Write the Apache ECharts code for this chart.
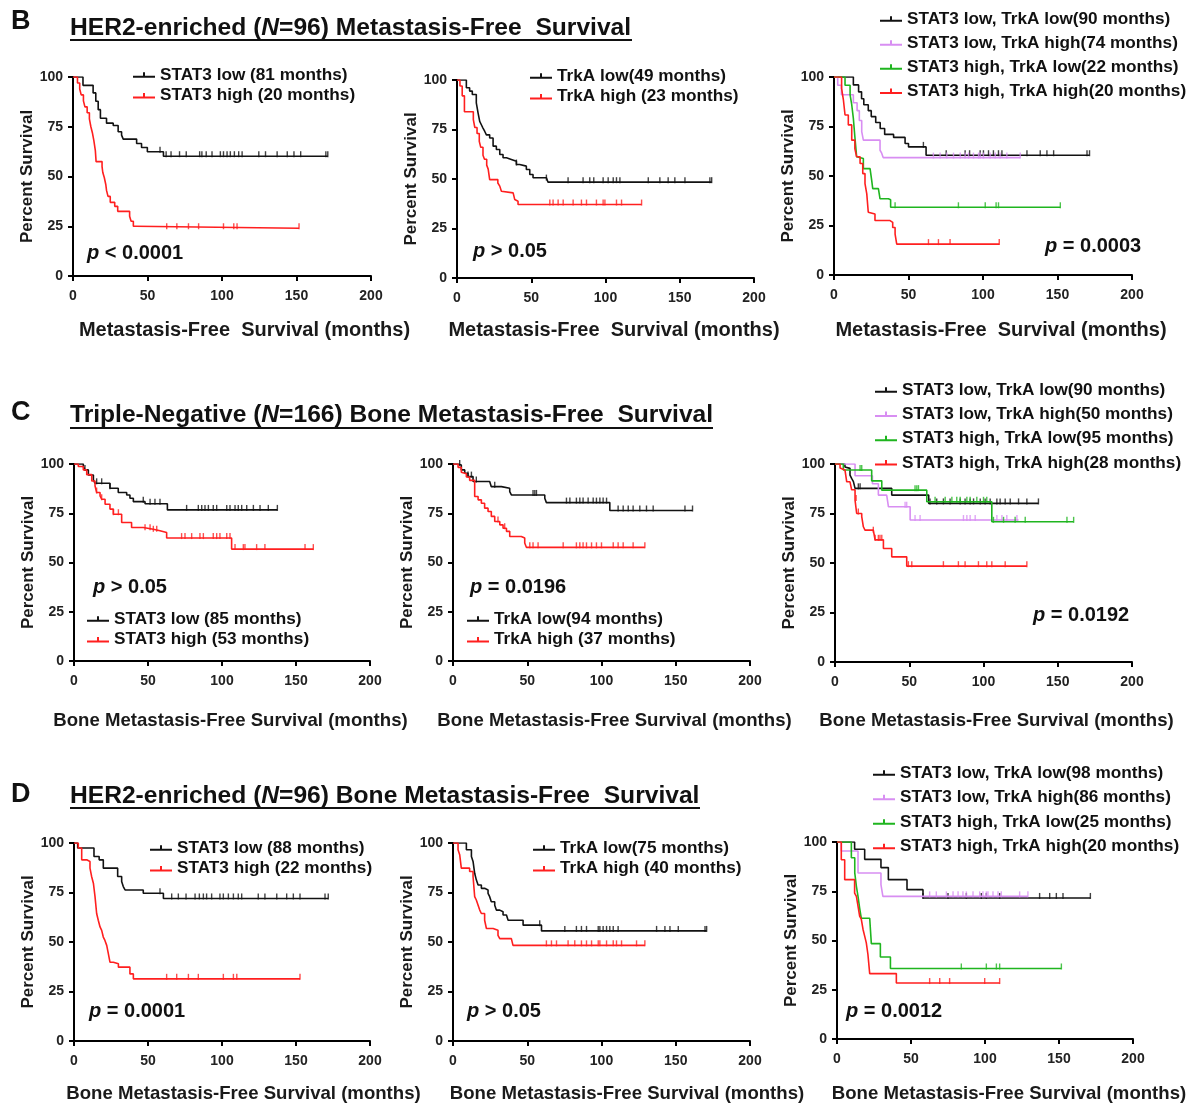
<!DOCTYPE html>
<html><head><meta charset="utf-8">
<script src="https://cdn.jsdelivr.net/npm/echarts@6/dist/echarts.min.js"></script>
<style>html,body{margin:0;padding:0;background:#fff}#c{width:1195px;height:1104px}</style>
</head><body><div id="c"></div><script>
// ---------- DATA (time in months, percent survival); last point = end of follow-up ----------
const xTicks = [0, 50, 100, 150, 200];
const yTicks = [0, 25, 50, 75, 100];

// B: HER2-enriched MFS
const b1Low = [[0,100],[6.7,95.8],[13.5,92],[15.3,87.8],[16.9,83.6],[18.4,79.3],[22.5,76.8],[27,75.6],[30.3,72.5],[32.6,70.8],[33.7,68.8],[42.7,66.6],[46,64.6],[49.9,62.4],[60.7,60.2],[171,60.2]];
const b1LowCens = [58.4,62.5,65.8,71.5,76,85,86.5,89.4,93.3,98.9,101,103.4,105.6,108.3,111.2,113.5,124.7,129.2,137,143.8,148.3,152.8,169.7,171];
const b1High = [[0,100],[3,97],[4.5,94],[5.5,91],[7,88],[8,85],[9.5,82],[11,79],[12,75],[13,72],[14,68],[15,63],[15.5,57.5],[19.5,55],[20,52],[21,49.5],[22,46],[22.5,43],[23.5,40],[25,37],[28,35],[30,32.5],[38,30],[39,27.5],[40.5,25],[42,24],[151.7,24]];
const b1HighCens = [62.9,69.7,77.5,84.3,101,107.9,110.1,151.7];

const b2Low = [[0,100],[6.3,96.1],[8.5,94.4],[10.3,92.7],[13,88.4],[14.2,83.3],[15.3,79.1],[16.4,77.4],[17.5,75.7],[18.7,74],[19.8,72.3],[22,70.7],[24.3,66.6],[26.5,64.9],[28.8,62.4],[31,60.7],[33.3,59.9],[36.6,59],[40,57.3],[42.2,56.5],[46.7,54.8],[49,52.3],[51.2,50.6],[60.2,49.7],[61.3,48.4],[171.5,48.4]];
const b2LowCens = [40,60.2,74.8,84.9,89.4,92.1,98.4,101.8,105.2,107.4,109.7,128.8,136.6,142.2,146.7,153.5,170.3,171.5];
const b2High = [[0,100],[2,97],[3.5,92],[5,84],[11,80],[12,76],[13.5,73],[15,69],[16,66],[17.5,62],[18.5,60],[20,57],[21,55],[22,49.7],[27.5,48],[28.8,46.4],[29.9,43.8],[31,43],[37.8,42.2],[38.9,39.6],[40,38.8],[41.1,37.1],[124.3,37.1]];
const b2HighCens = [62.5,64.7,68.1,71.5,78.2,83.8,87.2,93.9,98.4,99.6,107.4,110.8,124.3];

const b3LL = [[0,100],[13,96],[16.5,92.5],[18.5,89],[20,86],[23,83],[25,80],[28,77],[31,74],[34,71],[40,69.5],[47.7,66.4],[50,64.7],[61.8,60.5],[171.5,60.5]];
const b3LLCens = [60,75.3,88,91,98.1,100.3,103.7,107,110.4,112.7,129.5,138.4,142.9,147.4,169.8,171.5];
const b3LH = [[0,100],[2.5,95.8],[5,91],[13,87],[15.5,83],[17,78],[18.6,72.4],[19.7,68.1],[30.9,63],[32,61.5],[33,59.3],[125,59.3]];
const b3LHCens = [66.7,71.2,75.7,80.2,84.7,88,90.3,93.6,97,98.1,100.3,104.8,108.2,111.5,116,125];
const b3HL = [[0,100],[7.4,95.8],[10.8,91],[11.9,86],[13,79],[14,69.8],[15.2,59.7],[16.3,58.8],[19.7,53.7],[24.2,52.9],[25.3,47.8],[26,43.6],[29.8,42.7],[30.9,38.5],[36.5,38],[38,34.2],[151.9,34.2]];
const b3HLCens = [41,83.5,101.5,108.8,110.4,151.9];
const b3HH = [[0,100],[5.1,94.2],[6.3,88.5],[7.4,80.8],[9.6,75.8],[11.9,68.1],[14,63.9],[15.2,59.7],[17.5,56.3],[19.3,51.2],[20.8,46.1],[22,41],[23,31.7],[24.2,30.8],[27.5,27.5],[37.6,26.6],[39.4,24],[41,20.7],[42.1,15.6],[110.9,15.6]];
const b3HHCens = [63.4,70.1,77.9,110.9];

// C: Triple-negative BMFS
const c1Low = [[0,100],[6.3,98.7],[7.4,97],[9.7,94.4],[13.1,92],[14.2,90.2],[24.3,87.7],[29.9,85.5],[35.6,84.3],[37.8,82.6],[40.1,80.9],[48,79.8],[63.1,76.7],[137.4,76.7]];
const c1LowCens = [7.4,15.3,18.7,24.3,46.8,51.4,54.7,58.1,76.1,84,86.3,88.5,90.8,94.1,96.4,103.2,105.4,108.8,111,113.3,116.7,121.2,125.7,131.3,137.4];
const c1High = [[0,100],[2.9,98.7],[6.3,97],[8.6,94.6],[12,91.4],[14.2,88.9],[15.3,85.5],[17.6,83.8],[18.7,82.1],[21,79.6],[24.3,77.1],[26.6,74.5],[32.2,70.3],[38.9,67.8],[46.8,66.9],[53.6,66.1],[58.1,65.2],[62.6,62.4],[106.5,56.8],[161.7,56.8]];
const c1HighCens = [15.3,18.7,26.6,30,48,51.4,53.6,55.9,72.7,75,79.5,85.1,87.4,94.1,96.4,98.6,103.2,105.4,108.8,114.4,115.5,123.4,129,156.1,161.7];

const c2Low = [[0,100],[3.4,99.5],[5.6,97],[7.9,95.3],[10.1,93.6],[13.5,91.1],[24.7,90.2],[25.8,88.5],[32.6,87.7],[38.2,86],[39.3,84.3],[61.8,82.6],[62.9,80.4],[105.6,76.4],[161.3,76.4]];
const c2LowCens = [4.5,10.1,12.4,15.7,28.1,53.9,55.1,56.2,76.4,78.7,83.1,85.4,87.6,91,94.4,96.6,98.9,101.1,103.4,111.2,114.6,118,121.3,125.8,130.3,134.8,156.2,161.3];
const c2High = [[0,100],[3.4,98.3],[5.6,95.8],[6.7,95],[9,93.4],[11.2,91.7],[14.6,83.5],[16.9,81.8],[19.1,80.1],[21.3,77.6],[23.6,75.9],[25.8,73.4],[28.1,70.8],[31.5,69.1],[33.7,67.4],[36,65.8],[38.2,63.2],[46,62.4],[48.3,59.9],[49.4,57.7],[129.2,57.7]];
const c2HighCens = [30.3,34.8,51.7,53.9,57.3,74.2,83.1,85.4,87.6,89.9,93.3,96.6,100,107.9,111.2,114.6,121.3,129.2];

const c3LL = [[0,100],[6.7,98.5],[7.9,97.8],[10.1,94.4],[11.2,92.7],[12.4,91.1],[13.5,87.7],[38.2,84.3],[63.1,80.1],[137,80.1]];
const c3LLCens = [15.7,16.9,64,68.5,73,77.5,84.3,87.6,91,93.3,97.8,101.1,104.5,109,111.2,114.6,118,123.6,129.2,137];
const c3LH = [[0,100],[13.5,94.1],[25.2,90],[29.2,84.3],[34.8,83.5],[36,78.4],[50.6,71.7],[123.6,71.7]];
const c3LHCens = [47.2,48.3,53.9,57.3,86.5,88.8,91,94.4,109,112.4,115.7,122.5];
const c3HL = [[0,100],[5.6,97],[24.7,91.5],[31.5,86.8],[61.8,80.9],[105.6,70.8],[160.7,70.8]];
const c3HLCens = [16.9,18,53.9,55.1,56.2,67.4,74.2,78.7,82,84.3,88.8,91,95.5,100,102.2,106.7,113.5,121.3,128.1,156.2,160.7];
const c3HH = [[0,100],[3.4,98],[4.5,97],[6.7,96],[7.9,91],[10.1,90.2],[11.2,87],[13.5,81.8],[14.6,75],[18,73.4],[19.1,68.3],[20.2,66.6],[25.8,65.8],[27,61.7],[32.6,57.3],[38.2,53.1],[48.3,48.4],[129.2,48.4]];
const c3HHCens = [14.2,15.7,25.8,27,29.2,30.3,31.5,49.4,51.7,73,83.1,87.6,96.6,102.2,105.6,114.6,129.2];

// D: HER2-enriched BMFS
const d1Low = [[0,100],[2.5,97.5],[13.5,93.2],[17,91.5],[19.8,87.3],[29.5,83.1],[32.2,80.5],[33.3,78],[34.5,76.3],[46.8,74.6],[60.4,72],[171.8,72]];
const d1LowCens = [58.1,66,70.5,75.7,81.8,84.7,87.4,89.6,93,98.6,100.9,104.3,107.7,111,113.3,124.5,129,137,143.7,148.2,152.7,169.6,171.8];
const d1High = [[0,100],[2.9,97.5],[5.2,91.5],[8.6,90.7],[10.8,87.3],[11.9,83.1],[13.1,79.7],[14.2,72.9],[15.3,64.4],[16.4,61],[17.6,57.6],[18.7,55.9],[19.8,52.5],[20.9,50.8],[22.1,48.3],[23.2,44.1],[24.3,39.8],[26.6,39],[30,37.3],[37.8,33.9],[40.1,31.4],[152.7,31.4]];
const d1HighCens = [62.6,69.4,77.3,84,100.9,107.7,110,152.7];

const d2Low = [[0,100],[9,96.6],[12.4,93.2],[13.5,90.7],[14.6,84.7],[15.7,81.4],[16.9,78.8],[19.1,77.1],[21.3,76.3],[23.6,74.6],[24.7,72.9],[25.8,70.3],[28.1,68.6],[29.2,66.1],[31.5,65.3],[33.7,63.6],[36,62.7],[37.1,61],[47.2,58.5],[59.6,55.6],[170.8,55.6]];
const d2LowCens = [58.4,75.3,83.1,86.5,89.9,97.8,98.9,101.1,103.4,105.6,107.9,111.2,137.1,142.7,146.1,151.7,169.7,170.8];
const d2High = [[0,100],[3.4,96.6],[4.5,94.1],[5.6,87.3],[11.2,85.6],[13.5,83.1],[14.6,72.9],[15.7,71.2],[16.9,68.6],[18,66.1],[19.1,64.4],[21.3,61],[22.5,56.8],[27,55.9],[30.3,53.4],[31.5,51.7],[39.3,50.8],[40.4,48.3],[129.2,48.3]];
const d2HighCens = [62.9,66.3,69.7,77.5,82,86.5,89.9,93.3,97.8,98.9,103.4,107.9,110.1,113.5,123.6,129.2];

const d3LL = [[0,100],[11.9,96.3],[18.7,91.2],[29.7,87],[34.7,80.9],[47.3,75.8],[58.1,71.6],[171.2,71.6]];
const d3LLCens = [58.1,75,87.4,97.5,100.9,109.9,136.9,143.7,148.2,152.7,171.2];
const d3LH = [[0,100],[2.9,95.4],[14.2,84.3],[29.7,78.4],[31,72.4],[129,72.4]];
const d3LHCens = [62.6,67.1,73.9,78.4,81.8,85.1,87.4,91.9,96.4,98.6,100.9,102,105.4,108.8,111,123.4,129];
const d3HL = [[0,100],[9.7,92],[12,84.3],[13.1,77.5],[14.2,72.4],[15.3,66.4],[16.4,61.3],[22.1,60.4],[23.2,48.4],[29.3,41.6],[36.1,35.8],[151.6,35.8]];
const d3HLCens = [84,100.9,107.7,109.9,151.6];
const d3HH = [[0,100],[2.9,91],[5.2,80.9],[11.9,74.1],[13.1,72.4],[14.2,67.5],[15.3,62.4],[16.4,60.8],[17.6,55.6],[18.7,52.2],[19.8,48.8],[20.9,42.9],[22.1,33.2],[40.1,28.4],[109.9,28.4]];
const d3HHCens = [62.6,69.4,76.1,99.8,109.9];

// Names / labels
const namesB1 = ['STAT3 low (81 months)', 'STAT3 high (20 months)'];
const namesB2 = ['TrkA low(49 months)', 'TrkA high (23 months)'];
const namesB3 = ['STAT3 low, TrkA low(90 months)', 'STAT3 low, TrkA high(74 months)', 'STAT3 high, TrkA low(22 months)', 'STAT3 high, TrkA high(20 months)'];
const namesC1 = ['STAT3 low (85 months)', 'STAT3 high (53 months)'];
const namesC2 = ['TrkA low(94 months)', 'TrkA high (37 months)'];
const namesC3 = ['STAT3 low, TrkA low(90 months)', 'STAT3 low, TrkA high(50 months)', 'STAT3 high, TrkA low(95 months)', 'STAT3 high, TrkA high(28 months)'];
const namesD1 = ['STAT3 low (88 months)', 'STAT3 high (22 months)'];
const namesD2 = ['TrkA low(75 months)', 'TrkA high (40 months)'];
const namesD3 = ['STAT3 low, TrkA low(98 months)', 'STAT3 low, TrkA high(86 months)', 'STAT3 high, TrkA low(25 months)', 'STAT3 high, TrkA high(20 months)'];
const pTexts = ['< 0.0001', '> 0.05', '= 0.0003', '> 0.05', '= 0.0196', '= 0.0192', '= 0.0001', '> 0.05', '= 0.0012'];
const xNameB = 'Metastasis-Free  Survival (months)';
const xNameCD = 'Bone Metastasis-Free Survival (months)';
const yName = 'Percent Survival';

// ---------- STYLE / LAYOUT ----------
const FONT = '"Liberation Sans", Arial, Helvetica, sans-serif';
const BLK = '#121212', RED = '#ff1f1f', GRN = '#1fb51f', VIO = '#d88ef2';
const LEG_ICON = 'path://M0,5H22V7H0Z M10,1.5H12V5H10Z';

const panels = [
  {g:[73,77,298,199], xn:xNameB, xs:20, xg:44, xo:45, yg:33.5, leg:[133,75,21], p:[87,253],
   curves:[[b1Low,b1LowCens,BLK],[b1High,b1HighCens,RED]], names:namesB1},
  {g:[457,80,297,198], xn:xNameB, xs:20, xg:42, xo:17, yg:36, leg:[530,76,21], p:[473,251],
   curves:[[b2Low,b2LowCens,BLK],[b2High,b2HighCens,RED]], names:namesB2},
  {g:[834,77,298,198], xn:xNameB, xs:20, xg:45, xo:36, yg:34.5, leg:[880,19,24.3], p:[1045,246],
   curves:[[b3LL,b3LLCens,BLK],[b3LH,b3LHCens,VIO],[b3HL,b3HLCens,GRN],[b3HH,b3HHCens,RED]], names:namesB3},
  {g:[74,464,296,197], xn:xNameCD, xs:18.6, xg:50, xo:17, yg:33.5, leg:[87,619,21], p:[93,587],
   curves:[[c1Low,c1LowCens,BLK],[c1High,c1HighCens,RED]], names:namesC1},
  {g:[453,464,297,197], xn:xNameCD, xs:18.6, xg:50, xo:26, yg:33, leg:[467,619,21], p:[470,587],
   curves:[[c2Low,c2LowCens,BLK],[c2High,c2HighCens,RED]], names:namesC2},
  {g:[835,464,297,198], xn:xNameCD, xs:18.6, xg:49, xo:26, yg:34.5, leg:[875,390,24.5], p:[1033,615],
   curves:[[c3LL,c3LLCens,BLK],[c3LH,c3LHCens,VIO],[c3HL,c3HLCens,GRN],[c3HH,c3HHCens,RED]], names:namesC3},
  {g:[74,843,296,198], xn:xNameCD, xs:18.6, xg:43, xo:43, yg:33.5, leg:[150,848,21], p:[89,1011],
   curves:[[d1Low,d1LowCens,BLK],[d1High,d1HighCens,RED]], names:namesD1},
  {g:[453,843,297,198], xn:xNameCD, xs:18.6, xg:43, xo:51, yg:33, leg:[533,848,21], p:[467,1011],
   curves:[[d2Low,d2LowCens,BLK],[d2High,d2HighCens,RED]], names:namesD2},
  {g:[837,842,296,197], xn:xNameCD, xs:18.6, xg:45, xo:48, yg:36.5, leg:[873,773,24.7], p:[846,1011],
   curves:[[d3LL,d3LLCens,BLK],[d3LH,d3LHCens,VIO],[d3HL,d3HLCens,GRN],[d3HH,d3HHCens,RED]], names:namesD3}
];

function survAt(steps, t) {
  let s = steps[0][1];
  for (const p of steps) { if (p[0] <= t) s = p[1]; else break; }
  return s;
}

const grids = [], xAxes = [], yAxes = [], series = [], legends = [], graphics = [];
const LEG_FS = 17.2;
panels.forEach((P, i) => {
  grids.push({left:P.g[0], top:P.g[1], width:P.g[2], height:P.g[3], containLabel:false});
  xAxes.push({
    gridIndex:i, type:'value', min:xTicks[0], max:xTicks[xTicks.length-1], interval:xTicks[1]-xTicks[0],
    axisLine:{onZero:false, lineStyle:{color:'#000', width:2}},
    axisTick:{length:5, lineStyle:{color:'#000', width:2}},
    axisLabel:{margin:13, fontSize:14, fontWeight:'bold', color:'#222', fontFamily:FONT},
    splitLine:{show:false},
    name:P.xn, nameLocation:'middle', nameGap:P.xg,
    nameTextStyle:{fontSize:P.xs, fontWeight:'bold', color:'#1a1a1a', fontFamily:FONT, padding:[0,0,0,P.xo]}
  });
  yAxes.push({
    gridIndex:i, type:'value', min:yTicks[0], max:yTicks[yTicks.length-1], interval:yTicks[1]-yTicks[0],
    axisLine:{onZero:false, lineStyle:{color:'#000', width:2}},
    axisTick:{length:5, lineStyle:{color:'#000', width:2}},
    axisLabel:{margin:10, fontSize:14, fontWeight:'bold', color:'#222', fontFamily:FONT},
    splitLine:{show:false},
    name:yName, nameLocation:'middle', nameGap:P.yg,
    nameTextStyle:{fontSize:17, fontWeight:'bold', color:'#1a1a1a', fontFamily:FONT}
  });
  P.curves.forEach((c, k) => {
    const [steps, cens, color] = c;
    series.push({
      type:'line', name:P.names[k], xAxisIndex:i, yAxisIndex:i, data:steps, step:'end',
      symbol:'none', lineStyle:{color:color, width:1.6}, itemStyle:{color:color},
      animation:false, silent:true, z:2+k
    });
    series.push({
      type:'scatter', xAxisIndex:i, yAxisIndex:i,
      data:cens.map(t => [t, survAt(steps, t)]),
      symbol:'rect', symbolSize:[1.4,6], symbolOffset:[0,-2],
      itemStyle:{color:color}, animation:false, silent:true, z:2+k
    });
  });
  legends.push({
    left:P.leg[0], top:P.leg[1] - LEG_FS/2, orient:'vertical', padding:0,
    itemGap:P.leg[2] - LEG_FS, itemWidth:22, itemHeight:7, icon:LEG_ICON,
    selectedMode:false, data:P.names,
    itemStyle:{borderWidth:0},
    textStyle:{fontSize:LEG_FS, fontWeight:'bold', color:'#111', fontFamily:FONT, padding:[0,0,0,0]}
  });
  graphics.push({
    type:'text', x:P.p[0], y:P.p[1],
    style:{text:'{i|p} ' + pTexts[i], verticalAlign:'middle', fill:'#111',
      font:'bold 20px ' + FONT,
      rich:{i:{fontStyle:'italic', fontWeight:'bold', fontSize:20, fontFamily:FONT, fill:'#111'}}}
  });
});

// Section letters and underlined titles
const sections = [
  {letter:'B', ly:22, ty:28, uy:40, ux:[70,632], pre:'HER2-enriched (', n:'N', post:'=96) Metastasis-Free  Survival'},
  {letter:'C', ly:413, ty:415, uy:428, ux:[70,713], pre:'Triple-Negative (', n:'N', post:'=166) Bone Metastasis-Free  Survival'},
  {letter:'D', ly:795, ty:796, uy:808, ux:[70,700], pre:'HER2-enriched (', n:'N', post:'=96) Bone Metastasis-Free  Survival'}
];
sections.forEach(s => {
  graphics.push({type:'text', x:11, y:s.ly, style:{text:s.letter, font:'bold 27px ' + FONT, fill:'#111', verticalAlign:'middle'}});
  graphics.push({type:'text', x:70, y:s.ty, style:{
    text:'{a|' + s.pre + '}{i|' + s.n + '}{a|' + s.post + '}', verticalAlign:'middle',
    rich:{a:{fontSize:24.6, fontWeight:'bold', fontFamily:FONT, fill:'#111'},
          i:{fontSize:24.6, fontWeight:'bold', fontStyle:'italic', fontFamily:FONT, fill:'#111'}}}});
  graphics.push({type:'line', shape:{x1:s.ux[0], y1:s.uy, x2:s.ux[1], y2:s.uy}, style:{stroke:'#111', lineWidth:2}});
});

const chart = echarts.init(document.getElementById('c'), null, {renderer:'canvas'});
chart.setOption({
  backgroundColor:'#fff', animation:false,
  grid:grids, xAxis:xAxes, yAxis:yAxes, series:series, legend:legends, graphic:graphics
});
</script></body></html>
